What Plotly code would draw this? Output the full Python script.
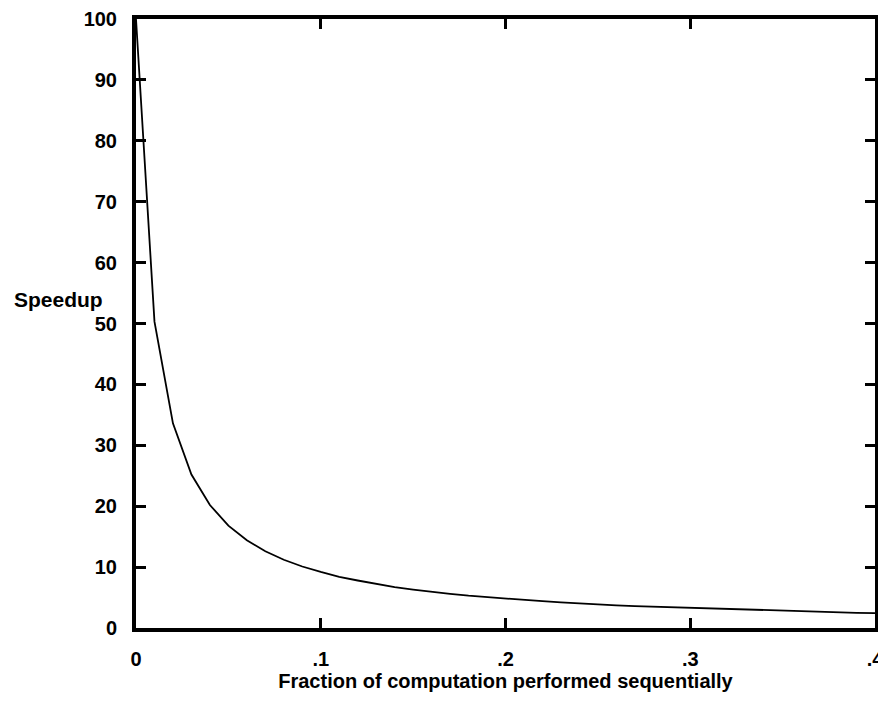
import plotly.graph_objects as go

fraction_sequential = [0.00, 0.01, 0.02, 0.03, 0.04, 0.05, 0.06, 0.07, 0.08, 0.09,
                       0.10, 0.11, 0.12, 0.13, 0.14, 0.15, 0.16, 0.17, 0.18, 0.19,
                       0.20, 0.21, 0.22, 0.23, 0.24, 0.25, 0.26, 0.27, 0.28, 0.29,
                       0.30, 0.31, 0.32, 0.33, 0.34, 0.35, 0.36, 0.37, 0.38, 0.39, 0.40]
speedup = [100.0, 50.3, 33.6, 25.2, 20.2, 16.8, 14.4, 12.6, 11.2, 10.1,
           9.2, 8.4, 7.8, 7.2, 6.7, 6.3, 5.9, 5.6, 5.3, 5.05,
           4.8, 4.6, 4.4, 4.2, 4.0, 3.9, 3.7, 3.6, 3.5, 3.4,
           3.3, 3.2, 3.1, 3.0, 2.9, 2.8, 2.7, 2.65, 2.6, 2.5, 2.45]

x_tickvals = [0, 0.1, 0.2, 0.3, 0.4]
x_ticktext = ["0", ".1", ".2", ".3", ".4"]
y_tickvals = [0, 10, 20, 30, 40, 50, 60, 70, 80, 90, 100]
y_ticktext = ["0", "10", "20", "30", "40", "50", "60", "70", "80", "90", "100"]

FONT = "Liberation Sans, Arial, sans-serif"

fig = go.Figure()
fig.add_trace(go.Scatter(x=fraction_sequential, y=speedup, mode="lines",
                         line=dict(color="black", width=1.8), showlegend=False,
                         cliponaxis=False))

fig.update_layout(
    template="none",
    width=878, height=688,
    margin=dict(l=128, r=11, t=11, b=68, autoexpand=False),
    paper_bgcolor="white", plot_bgcolor="white",
    font=dict(family=FONT, color="black"),
    xaxis=dict(range=[0, 0.4], tickvals=x_tickvals, ticktext=x_ticktext,
               automargin=False, ticklabeloverflow="allow",
               showline=True, linecolor="black", linewidth=4, mirror="ticks",
               ticks="inside", ticklen=10, tickwidth=3, tickcolor="black",
               showgrid=False, zeroline=False,
               tickfont=dict(size=20, family=FONT, weight="bold"),
               ticklabelstandoff=10,
               title=dict(text="<b>Fraction of computation performed sequentially</b>",
                          font=dict(size=20, family=FONT), standoff=4)),
    yaxis=dict(range=[0, 100], tickvals=y_tickvals, ticktext=y_ticktext,
               automargin=False,
               showline=True, linecolor="black", linewidth=4, mirror="ticks",
               ticks="inside", ticklen=10, tickwidth=3, tickcolor="black",
               showgrid=False, zeroline=False,
               tickfont=dict(size=20, family=FONT, weight="bold"),
               ticklabelstandoff=11),
    annotations=[dict(text="<b>Speedup</b>", xref="paper", yref="y",
                      x=-0.168, y=54, xanchor="left", yanchor="middle",
                      showarrow=False, font=dict(size=21, family=FONT))],
)

fig.write_html("out.html")
